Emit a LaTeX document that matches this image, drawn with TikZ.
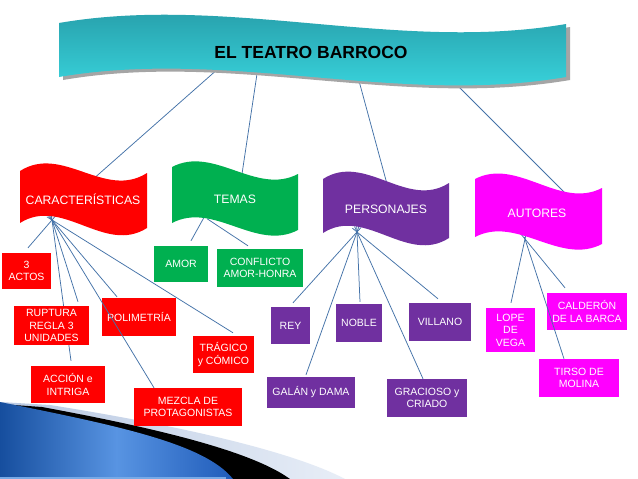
\documentclass[tikz,border=0pt]{standalone}
\usepackage{fontspec}
\setmainfont{Liberation Sans}
\usetikzlibrary{calc}
\definecolor{lnk}{RGB}{68,114,168}
\definecolor{cred}{RGB}{255,0,0}
\definecolor{cgreen}{RGB}{0,176,80}
\definecolor{cpurple}{RGB}{112,48,160}
\definecolor{cmag}{RGB}{255,0,255}
\definecolor{tealtop}{RGB}{36,150,162}
\definecolor{tealbot}{RGB}{60,222,230}
\definecolor{shad}{RGB}{165,165,165}
\definecolor{blueA}{RGB}{22,78,158}
\definecolor{blueB}{RGB}{88,148,226}
\definecolor{blueC}{RGB}{32,92,186}
\definecolor{grayA}{RGB}{184,200,226}
\definecolor{grayB}{RGB}{232,238,247}
\definecolor{stripe}{RGB}{120,170,230}
\pgfdeclarelayer{deco}
\pgfdeclarelayer{bg}
\pgfsetlayers{deco,bg,main}
\newcommand\linkit[2]{\draw[link] ($(#1)!-6pt!(#2)$) -- (#2);}
\begin{document}
\begin{tikzpicture}[x=1pt,y=-1pt,
  link/.style={draw=lnk,line width=0.75pt},
  leaf/.style={fill=#1,text=white,inner sep=0pt,align=center,font=\fontsize{10.5}{12.6}\selectfont},
  flagtext/.style={text=white,font=\fontsize{12.2}{14}\selectfont,inner sep=0pt,text height=8.8pt,text depth=0pt},
  titletext/.style={text=black,font=\fontsize{17.5}{20}\selectfont\bfseries,inner sep=0pt,text height=12.6pt,text depth=0pt}
]
\useasboundingbox (0,0) rectangle (638,479);

% ---------- bottom-left decoration ----------
\begin{pgfonlayer}{deco}
\fill[white] (0,0) rectangle (638,479);
\shade[left color=grayA,right color=grayB] (0,402) -- (50,405) .. controls (170,424) and (290,450) .. (345,479) -- (0,479) -- cycle;
\fill[black] (0,404) -- (42,407) .. controls (150,427) and (250,450) .. (290,479) -- (0,479) -- cycle;
\shade[left color=blueA,right color=blueC,middle color=blueB] (0,402) .. controls (120,426) and (205,444) .. (233,479) -- (0,479) -- cycle;
\fill[stripe] (0,476.5) rectangle (226,479);
\end{pgfonlayer}

% ---------- title banner ----------
\fill[shad,shift={(4,3)}] (59,23) .. controls (228,-6) and (397,53) .. (566,24) -- (566,77) .. controls (397,106) and (228,48) .. (59,77) -- cycle;
\shade[top color=tealtop,bottom color=tealbot] (59,23) .. controls (228,-6) and (397,53) .. (566,24) -- (566,77) .. controls (397,106) and (228,48) .. (59,77) -- cycle;
\node[titletext] (title) at (311,52) {EL TEATRO BARROCO};

% ---------- category flags ----------
\fill[cred] (20,171) .. controls (62.33,144) and (104.67,200) .. (147,173) -- (147,228) .. controls (104.67,255) and (62.33,196) .. (20,223) -- cycle;
\node[flagtext] (carac) at (83,200) {CARACTERÍSTICAS};
\fill[cgreen] (172,167) .. controls (214,145) and (256,196) .. (298,174) -- (298,230) .. controls (256,252) and (214,201) .. (172,223) -- cycle;
\node[flagtext] (temas) at (235,199) {TEMAS};
\fill[cpurple] (323,179) .. controls (365,152) and (407,210) .. (449,183) -- (449,238) .. controls (407,265) and (365,206) .. (323,233) -- cycle;
\node[flagtext] (perso) at (386,209) {PERSONAJES};
\fill[cmag] (475,179) .. controls (517.33,157) and (559.67,210) .. (602,188) -- (602,244) .. controls (559.67,266) and (517.33,215) .. (475,237) -- cycle;
\node[flagtext] (autores) at (537,213) {AUTORES};

% ---------- leaf boxes ----------
\node[leaf=cred,minimum width=49pt,minimum height=36pt] (actos) at (26.5,271) {3\\ACTOS};
\node[leaf=cred,minimum width=75pt,minimum height=39pt] (ruptura) at (51.5,325.5) {RUPTURA\\REGLA 3\\UNIDADES};
\node[leaf=cred,minimum width=74pt,minimum height=38pt] (polimetria) at (139,317) {POLIMETRÍA};
\node[leaf=cred,minimum width=74pt,minimum height=37pt] (accion) at (68,384.5) {ACCIÓN e\\INTRIGA};
\node[leaf=cred,minimum width=108pt,minimum height=38pt] (mezcla) at (188,407) {MEZCLA DE\\PROTAGONISTAS};
\node[leaf=cred,minimum width=61pt,minimum height=37pt] (tragico) at (223.5,354.5) {TRÁGICO\\y CÓMICO};
\node[leaf=cgreen,minimum width=54pt,minimum height=36pt] (amor) at (181,264) {AMOR};
\node[leaf=cgreen,minimum width=86pt,minimum height=38pt] (conflicto) at (260,268) {CONFLICTO\\AMOR-HONRA};
\node[leaf=cpurple,minimum width=39pt,minimum height=37pt] (rey) at (290.5,325.5) {REY};
\node[leaf=cpurple,minimum width=88pt,minimum height=31pt] (galan) at (311,392.5) {GALÁN y DAMA};
\node[leaf=cpurple,minimum width=46pt,minimum height=38pt] (noble) at (359,323) {NOBLE};
\node[leaf=cpurple,minimum width=62pt,minimum height=38pt] (villano) at (440,322) {VILLANO};
\node[leaf=cpurple,minimum width=80pt,minimum height=38pt] (gracioso) at (427,398) {GRACIOSO y\\CRIADO};
\node[leaf=cmag,minimum width=49pt,minimum height=44pt] (lope) at (510.5,330) {LOPE\\DE\\VEGA};
\node[leaf=cmag,minimum width=80pt,minimum height=37pt] (calderon) at (587,311.5) {CALDERÓN\\DE LA BARCA};
\node[leaf=cmag,minimum width=80pt,minimum height=38pt] (tirso) at (579,378) {TIRSO DE\\MOLINA};

% ---------- connector points ----------
\coordinate (hc) at (52,220);
\coordinate (ht1) at (202,221);
\coordinate (ht2) at (212,222);
\coordinate (hp) at (357,232);
\coordinate (ha) at (525,239);
\coordinate (tA1) at (219,68);  \coordinate (fA1) at (95.5,177);
\coordinate (tA2) at (257.3,72); \coordinate (fA2) at (242,174);
\coordinate (tA3) at (358.5,79); \coordinate (fA3) at (387,184);
\coordinate (tA4) at (455,83);  \coordinate (fA4) at (567,195);
\coordinate (eactos) at ([xshift=1.5pt,yshift=5pt]actos.north);
\coordinate (erupt) at ([xshift=26.5pt,yshift=4pt]ruptura.north);
\coordinate (eacc) at ([xshift=3pt,yshift=5pt]accion.north);
\coordinate (emez) at ([xshift=-34pt]mezcla.north);
\coordinate (epol) at ([xshift=-22pt,yshift=1pt]polimetria.north);
\coordinate (etra) at ([xshift=9.5pt,yshift=3pt]tragico.north);
\coordinate (eamor) at ([xshift=10pt,yshift=5pt]amor.north);
\coordinate (econf) at ([xshift=-12pt,yshift=3pt]conflicto.north);
\coordinate (erey) at ([xshift=2.5pt,yshift=4pt]rey.north);
\coordinate (egal) at ([xshift=-5pt,yshift=2pt]galan.north);
\coordinate (enob) at ([xshift=1pt,yshift=2pt]noble.north);
\coordinate (egra) at ([xshift=-4pt]gracioso.north);
\coordinate (evil) at ([xshift=-2pt,yshift=4pt]villano.north);
\coordinate (elope) at ([xshift=0.5pt,yshift=5pt]lope.north);
\coordinate (etir) at ([xshift=-15pt]tirso.north);
\coordinate (ecal) at ([xshift=-22pt,yshift=5pt]calderon.north);

% ---------- connectors behind shapes ----------
\begin{pgfonlayer}{bg}
\draw[link] (tA1) -- (fA1);
\draw[link] (tA2) -- (fA2);
\draw[link] (tA3) -- (fA3);
\draw[link] (tA4) -- (fA4);
\linkit{hc}{eactos}
\linkit{hc}{erupt}
\linkit{hc}{eacc}
\linkit{hc}{epol}
\linkit{hc}{etra}
\linkit{ht1}{eamor}
\linkit{ht2}{econf}
\linkit{hp}{erey}
\linkit{hp}{egal}
\linkit{hp}{enob}
\linkit{hp}{egra}
\linkit{hp}{evil}
\linkit{ha}{elope}
\linkit{ha}{ecal}
\end{pgfonlayer}

% ---------- connectors drawn over boxes ----------
\draw[link] ($(hc)!-3pt!(emez)$) -- (emez);
\draw[link] ($(ha)!-2pt!(etir)$) -- (etir);
\end{tikzpicture}
\end{document}
